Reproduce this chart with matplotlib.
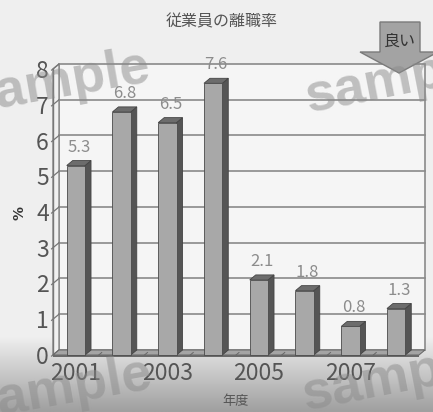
import numpy as np
import matplotlib
matplotlib.use("Agg")
import matplotlib.pyplot as plt
from matplotlib.patches import Polygon, Rectangle

plt.rcParams['font.family'] = ['Liberation Sans Narrow', 'Noto Sans CJK JP', 'DejaVu Sans']

# ---- data ----
years = ['2001', '2002', '2003', '2004', '2005', '2006', '2007', '2008']
rates = [5.3, 6.8, 6.5, 7.6, 2.1, 1.8, 0.8, 1.3]
tick_years = ['2001', '2003', '2005', '2007']
title = '従業員の離職率'
xlabel = '年度'
ylabel = '%'
arrow_text = '良い'

W, H = 433, 412
fig = plt.figure(figsize=(W / 100, H / 100), dpi=100)

# background: light grey fading to a darker band at the bottom
bg = fig.add_axes([0, 0, 1, 1], zorder=-10)
rows = np.linspace(0, 1, H)
shade = np.where(rows < 0.82, 0.935, 0.935 - (rows - 0.82) / 0.18 * 0.31)
bg.imshow(np.tile(shade[:, None], (1, 4)), cmap='gray', vmin=0, vmax=1,
          aspect='auto', extent=[0, 1, 0, 1], origin='upper')
bg.set_axis_off()

# main axes: front plane of the 3D box
ax = fig.add_axes([53 / W, 57 / H, 366 / W, 286 / H])
ax.set_xlim(-0.5, 7.5)
ax.set_ylim(0, 8)
ax.patch.set_visible(False)
for s in ax.spines.values():
    s.set_visible(False)

DX, DY = 0.131, 0.14      # depth offset of the 3D effect (data units)
x_lo, x_hi = -0.5, 7.5
grid_c = '#8a8a8a'

# back wall
ax.add_patch(Rectangle((x_lo + DX, DY), x_hi - x_lo, 8, facecolor='#f5f5f5',
                       edgecolor=grid_c, lw=1.2, clip_on=False, zorder=1))
for yv in range(1, 8):
    ax.plot([x_lo + DX, x_hi + DX], [yv + DY, yv + DY], color=grid_c, lw=1.2,
            clip_on=False, zorder=1.5)
# left wall
ax.add_patch(Polygon([(x_lo, 0), (x_lo + DX, DY), (x_lo + DX, 8 + DY), (x_lo, 8)],
                     closed=True, facecolor='#f0f0f0', edgecolor=grid_c, lw=1.0,
                     clip_on=False, zorder=1.2))
for yv in range(0, 9):
    ax.plot([x_lo - 0.03, x_lo + DX], [yv - 0.03, yv + DY], color='#777777',
            lw=0.9, clip_on=False, zorder=1.6)
ax.plot([x_lo, x_lo], [0, 8], color='#777777', lw=1.0, clip_on=False, zorder=1.7)

# floor slab
ax.add_patch(Polygon([(x_lo, 0), (x_hi, 0), (x_hi + DX, DY), (x_lo + DX, DY)],
                     closed=True, facecolor='#a4a4a4', edgecolor='#666666', lw=0.7,
                     clip_on=False, zorder=2))
ax.add_patch(Rectangle((x_lo, -0.05), x_hi - x_lo, 0.05, facecolor='#6a6a6a',
                       edgecolor='none', clip_on=False, zorder=2))
for xb in np.arange(x_lo + 0.5, x_hi, 0.5):
    ax.plot([xb, xb + DX * 0.5], [0, DY * 0.5], color='#666666', lw=0.7,
            clip_on=False, zorder=2.1)

# 3D bars
bw = 0.2
for i, v in enumerate(rates):
    x0, x1 = i - bw, i + bw
    ax.add_patch(Polygon([(x1, 0), (x1 + DX, DY), (x1 + DX, v + DY), (x1, v)],
                         closed=True, facecolor='#555555', edgecolor='#444444',
                         lw=0.6, clip_on=False, zorder=3))
    ax.add_patch(Polygon([(x0, v), (x1, v), (x1 + DX, v + DY), (x0 + DX, v + DY)],
                         closed=True, facecolor='#6c6c6c', edgecolor='#444444',
                         lw=0.6, clip_on=False, zorder=3))
    ax.add_patch(Rectangle((x0, 0), 2 * bw, v, facecolor='#a8a8a8',
                           edgecolor='#4a4a4a', lw=0.6, clip_on=False, zorder=3.2))
    ax.text(i + DX / 2, v + DY + 0.14, f'{v:.1f}', ha='center', va='bottom',
            fontsize=12, color='#8c8c8c', zorder=4)

# ticks
ax.set_xticks([years.index(t) for t in tick_years], tick_years)
ax.set_yticks(range(0, 9))
ax.tick_params(axis='x', length=0, pad=5, labelsize=16.5, labelcolor='#555555')
ax.tick_params(axis='y', length=0, pad=3, labelsize=16.5, labelcolor='#555555')

# titles and axis labels
fig.text(221.5 / W, 1 - 22 / H, title, ha='center', va='center', fontsize=11.5,
         color='#555555', family=['Noto Sans CJK JP', 'DejaVu Sans'])
fig.text(236 / W, 1 - 401 / H, xlabel, ha='center', va='center', fontsize=9.5,
         color='#555555', family=['Noto Sans CJK JP', 'DejaVu Sans'])
fig.text(20 / W, 1 - 213 / H, ylabel, ha='center', va='center', fontsize=10,
         rotation=90, fontweight='bold', color='#333333', family=['DejaVu Sans'])

# "良い" down arrow
pts = [(380, 22), (420, 22), (420, 52), (438, 52), (399, 73), (360, 52), (380, 52)]
fig.patches.append(Polygon([(x / W, 1 - y / H) for x, y in pts], closed=True,
                           transform=fig.transFigure, facecolor='#a3a3a3',
                           edgecolor='#7a7a7a', lw=1.0, zorder=20))
fig.text(400 / W, 1 - 41 / H, arrow_text, ha='center', va='center', fontsize=11.5,
         color='#333333', zorder=21, family=['Noto Sans CJK JP', 'DejaVu Sans'])

# "sample" watermarks
for (px, py, rot) in [(-32, 113, 10), (308, 112, 11), (-30, 420, 10), (305, 410, 11)]:
    fig.text(px / W, 1 - py / H, 'sample', ha='left', va='baseline',
             rotation=rot, rotation_mode='anchor', fontsize=39, fontweight='bold',
             color='#8a8a8a', alpha=0.5, zorder=30, family=['Liberation Sans'])

fig.savefig('out.png', dpi=100)
